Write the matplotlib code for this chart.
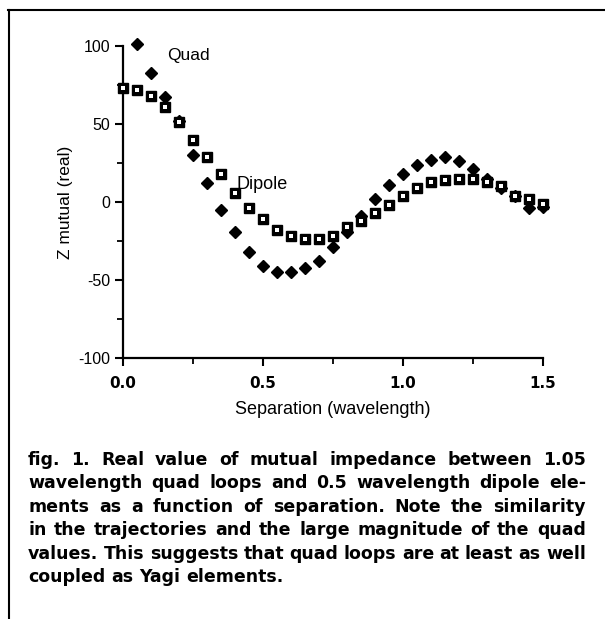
import matplotlib
matplotlib.use("Agg")
import matplotlib.pyplot as plt
from matplotlib.lines import Line2D
from matplotlib.ticker import MultipleLocator, FormatStrFormatter

plt.rcParams["axes.unicode_minus"] = False

# separation in wavelengths
sep = [0.0, 0.05, 0.1, 0.15, 0.2, 0.25, 0.3, 0.35, 0.4, 0.45, 0.5, 0.55, 0.6,
       0.65, 0.7, 0.75, 0.8, 0.85, 0.9, 0.95, 1.0, 1.05, 1.1, 1.15, 1.2, 1.25,
       1.3, 1.35, 1.4, 1.45, 1.5]

# real part of mutual impedance (ohms)
quad = [None, 101, 83, 67, 52, 30, 12, -5, -19, -32, -41, -45, -45,
        -42, -38, -29, -19, -9, 2, 11, 18, 24, 27, 29, 26, 21,
        15, 9, 4, -4, -3]
dipole = [73, 72, 68, 61, 51, 40, 29, 18, 6, -4, -11, -18, -22,
          -24, -24, -22, -16, -12, -7, -2, 4, 9, 13, 14, 15, 15,
          13, 10, 4, 2, -1]

caption = [
    "fig. 1. Real value of mutual impedance between 1.05",
    "wavelength quad loops and 0.5 wavelength dipole ele-",
    "ments as a function of separation. Note the similarity",
    "in the trajectories and the large magnitude of the quad",
    "values. This suggests that quad loops are at least as well",
    "coupled as Yagi elements.",
]

W, H = 605, 619
fig = plt.figure(figsize=(W / 100, H / 100), dpi=100)
ax = fig.add_axes([123 / W, 1 - 358 / H, 420 / W, 312 / H])

qx = [s for s, q in zip(sep, quad) if q is not None]
qy = [q for q in quad if q is not None]
ax.plot(qx, qy, linestyle="none", marker="D", ms=6.5, color="black", clip_on=False, zorder=3)
ax.plot(sep, dipole, linestyle="none", marker="s", ms=7.5, color="black", clip_on=False, zorder=4)
ax.plot(sep, dipole, linestyle="none", marker="s", ms=2.2, mfc="white", mew=0,
        clip_on=False, zorder=5)

ax.set_xlim(0, 1.5)
ax.set_ylim(-100, 100)
ax.spines["top"].set_visible(False)
ax.spines["right"].set_visible(False)
for s in ("left", "bottom"):
    ax.spines[s].set_linewidth(1.6)

ax.xaxis.set_major_locator(MultipleLocator(0.5))
ax.xaxis.set_minor_locator(MultipleLocator(0.25))
ax.xaxis.set_major_formatter(FormatStrFormatter("%.1f"))
ax.yaxis.set_major_locator(MultipleLocator(50))
ax.yaxis.set_minor_locator(MultipleLocator(25))
ax.tick_params(which="major", direction="out", length=6, width=1.5)
ax.tick_params(which="minor", direction="out", length=4, width=1.3)
ax.tick_params(axis="y", labelsize=11.5, pad=3)
ax.tick_params(axis="x", labelsize=11, pad=7)
for t in ax.get_xticklabels():
    t.set_fontweight("bold")
for t in ax.get_yticklabels():
    t.set_fontfamily("Liberation Sans")

ax.set_xlabel("Separation (wavelength)", fontsize=13, fontfamily="Liberation Sans", labelpad=7)
ax.set_ylabel("Z mutual (real)", fontsize=12.5, fontfamily="Liberation Sans", labelpad=4)

ax.text(0.157, 94, "Quad", fontsize=12.5, fontfamily="Liberation Sans", va="center")
ax.text(0.407, 11, "Dipole", fontsize=13, fontfamily="Liberation Sans", va="center")

# frame lines around the figure block
fig.add_artist(Line2D([8 / W, 1], [1 - 10 / H, 1 - 10 / H], color="black", lw=1.5))
fig.add_artist(Line2D([9 / W, 9 / W], [1 - 10 / H, 0], color="black", lw=1.5))

# justified caption, placed word by word
renderer = fig.canvas.get_renderer()
cap_kw = dict(fontsize=12.5, fontweight="bold", fontfamily="DejaVu Sans", va="center", ha="left")
x0, x1 = 28, 586
space = fig.text(0, 0, "a a", **cap_kw)
aa = fig.text(0, 0, "aa", **cap_kw)
space_w = space.get_window_extent(renderer).width - aa.get_window_extent(renderer).width
space.remove()
aa.remove()
for i, line in enumerate(caption):
    y = 1 - (460 + i * 23.4) / H
    words = line.split()
    texts = [fig.text(0, y, w, **cap_kw) for w in words]
    widths = [t.get_window_extent(renderer).width for t in texts]
    if i < len(caption) - 1:
        gap = (x1 - x0 - sum(widths)) / (len(words) - 1)
    else:
        gap = space_w
    x = x0
    for t, w in zip(texts, widths):
        t.set_x(x / W)
        x += w + gap

fig.savefig("out.png", dpi=100)
